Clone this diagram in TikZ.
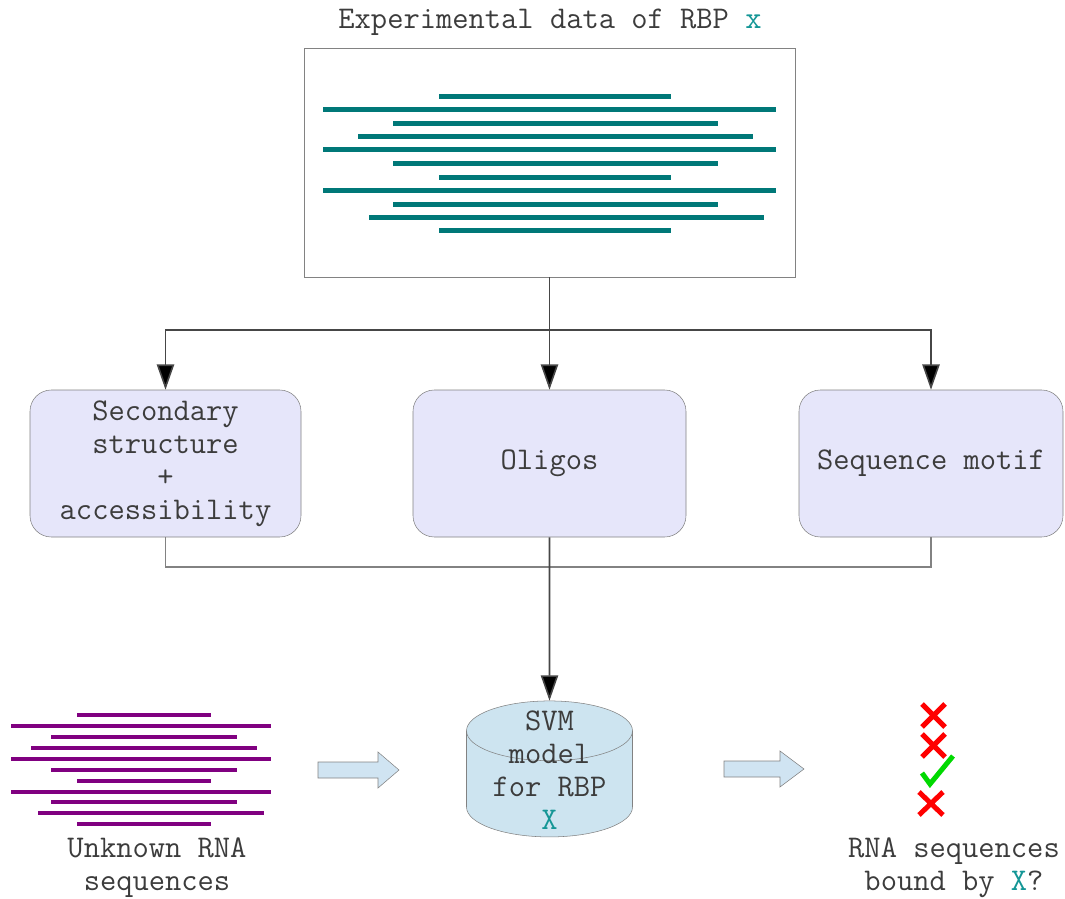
\documentclass[tikz,border=0pt]{standalone}
\usepackage{xcolor}
\usetikzlibrary{arrows.meta, shapes.geometric}

\definecolor{seqteal}{RGB}{0,120,120}
\definecolor{xteal}{RGB}{20,150,150}
\definecolor{rnapurple}{RGB}{128,0,128}
\definecolor{boxlav}{RGB}{230,230,250}
\definecolor{svmblue}{RGB}{205,228,240}
\definecolor{arrowblue}{RGB}{208,228,242}
\definecolor{txtgray}{RGB}{60,60,60}
\definecolor{edgegray}{RGB}{130,130,130}
\definecolor{flowgray}{RGB}{70,70,70}

\begin{document}
\begin{tikzpicture}[x=0.75pt, y=-0.75pt]
\tikzstyle{monotext} = [font=\ttfamily\fontsize{23.7}{24.75}\selectfont, text=txtgray, align=center]
\tikzstyle{feature} = [monotext, draw=edgegray, fill=boxlav, rounded corners=16pt, minimum height=110.25pt]
\tikzstyle{flow} = [draw=flowgray, line width=1.2pt, -{Triangle[length=19pt, width=13pt, fill=black]}]
\tikzstyle{merge line} = [draw=edgegray, line width=0.8pt]
\tikzstyle{blockarrow} = [draw=edgegray, fill=arrowblue]
\tikzstyle{nomark} = [draw=red, line width=3.75pt]
\tikzstyle{yesmark} = [draw=green!85!black, line width=3.75pt]

\useasboundingbox (0,0) rectangle (1065,899);

% experimental data
\node[monotext] (title) at (550,22) {Experimental data of RBP \textcolor{xteal}{x}};
\node[draw=edgegray, minimum width=368.25pt, minimum height=171.75pt] (exp) at (549.5,162.5) {};
\foreach \y/\a/\b in {97/439/671, 110/323/776, 124/393/718, 137/358/753, 150/323/776,
  164/393/718, 177/439/671, 190/323/776, 204/393/718, 217/369/764, 230/439/671}
  \draw[seqteal, line width=3.75pt] (\a,\y) -- (\b,\y);

% features
\node[feature, minimum width=203.25pt] (sec) at (165.5,463.5) {Secondary\\structure\\+\\accessibility};
\node[feature, minimum width=204.75pt] (oli) at (549.5,463.5) {Oligos};
\node[feature, minimum width=198pt] (mot) at (931,463.5) {Sequence motif};

\coordinate (fork) at (549.5,330);
\coordinate (merge) at (549.5,567);

\path[flow] (exp) -- (oli);
\path[flow] (fork) -| (sec);
\path[flow] (fork) -| (mot);

% model
\node[cylinder, shape border rotate=90, aspect=0.36, draw=edgegray, fill=svmblue,
  minimum height=102pt, inner sep=0pt] (svm) at (549.5,784) {\rule{124.5pt}{0pt}};
\node[monotext] (svmtext) at (549.5,770) {SVM\\model\\for RBP\\\textcolor{xteal}{X}};

\path[merge line] (sec.south) |- (merge) -| (mot.south);
\path[flow] (oli) -- (svm);

% unknown sequences
\foreach \y/\a/\b in {715/77/211, 726/11/271, 737/51/237, 748/31/257, 759/11/271,
  770/51/237, 781/77/211, 792/11/271, 802/51/237, 813/38/264, 824/77/211}
  \draw[rnapurple, line width=3pt] (\a,\y) -- (\b,\y);
\node[monotext] (unknown) at (157,868) {Unknown RNA\\sequences};

\path[blockarrow] (318,762) -- (378,762) -- (378,752) -- (399,770) -- (378,788)
  -- (378,778) -- (318,778) -- cycle;
\path[blockarrow] (724,761) -- (780,761) -- (780,751) -- (804,769) -- (780,787)
  -- (780,777) -- (724,777) -- cycle;

% predictions
\path[nomark] (922,704) -- (945,727) (945,704) -- (922,727);
\path[nomark] (922,734) -- (945,757) (945,734) -- (922,757);
\path[yesmark] (922,773) -- (930,784) -- (953,756);
\path[nomark] (919,792) -- (943,815) (943,792) -- (919,815);
\node[monotext] (bound) at (954,868) {RNA sequences\\bound by \textcolor{xteal}{X}?};
\end{tikzpicture}
\end{document}
